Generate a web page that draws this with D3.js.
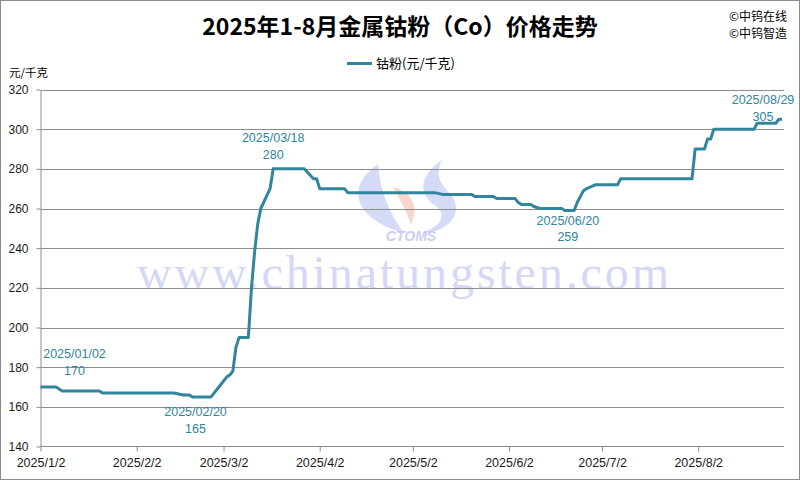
<!DOCTYPE html>
<html><head><meta charset="utf-8">
<script src="https://cdn.jsdelivr.net/npm/d3@7"></script>
<style>body{margin:0;background:#fff}svg{display:block}</style>
</head><body>
<svg id="chart" width="800" height="480"></svg>
<script>
const chartTitle = "2025年1-8月金属钴粉（Co）价格走势";
const seriesName = "钴粉(元/千克)";
const unitLabel = "元/千克";
const credits = ["©中钨在线", "©中钨智造"];
const watermarkText = "www.chinatungsten.com";
const logoText = "CTOMS";

const dates = ["2025-01-02","2025-01-07","2025-01-09","2025-01-21","2025-01-22","2025-02-14","2025-02-17","2025-02-19","2025-02-20","2025-02-26","2025-02-27","2025-02-28","2025-03-03","2025-03-04","2025-03-05","2025-03-06","2025-03-07","2025-03-10","2025-03-11","2025-03-12","2025-03-13","2025-03-14","2025-03-17","2025-03-18","2025-03-28","2025-03-31","2025-04-01","2025-04-02","2025-04-10","2025-04-11","2025-05-09","2025-05-12","2025-05-21","2025-05-22","2025-05-28","2025-05-29","2025-06-04","2025-06-05","2025-06-06","2025-06-09","2025-06-10","2025-06-12","2025-06-19","2025-06-20","2025-06-23","2025-06-24","2025-06-25","2025-06-26","2025-06-27","2025-06-30","2025-07-07","2025-07-08","2025-07-31","2025-08-01","2025-08-04","2025-08-05","2025-08-06","2025-08-07","2025-08-20","2025-08-21","2025-08-27","2025-08-28","2025-08-29"];
const prices = [170,170,168,168,167,167,166,166,165,165,167,169,175,176,178,190,195,195,220,238,252,260,270,280,280,275,275,270,270,268,268,267,267,266,266,265,265,263,262,262,261,260,260,259,259,263,266,269,270,272,272,275,275,290,290,295,295,300,300,303,303,305,305];

const yTicks = [140,160,180,200,220,240,260,280,300,320];
const xTickDates = ["2025-01-02","2025-02-02","2025-03-02","2025-04-02","2025-05-02","2025-06-02","2025-07-02","2025-08-02"];
const xTickLabels = ["2025/1/2","2025/2/2","2025/3/2","2025/4/2","2025/5/2","2025/6/2","2025/7/2","2025/8/2"];

const annotationDates = ["2025-01-02","2025-02-20","2025-03-18","2025-06-20","2025-08-29"];
const annotationValues = [170,165,280,259,305];
const annotationDateLabels = ["2025/01/02","2025/02/20","2025/03/18","2025/06/20","2025/08/29"];

// ---- layout / style ----
const W = 800, H = 480;
const plot = {left: 40.5, right: 782, top: 89.5, bottom: 446.5, gridRight: 784};
const lineColor = "#31859c";
const gridColor = "#8c8c8c";
const cjk = "'Noto Sans CJK SC','Noto Sans',sans-serif";
const latin = "'Liberation Sans',Arial,sans-serif";
// label offsets relative to the annotated point (dx, dy for date line, dy for value line)
const annOffsets = [[34,-33,-16],[3,15,32],[0,-31,-14],[3,10,26],[-19,-20,-3]];

const parse = d3.timeParse("%Y-%m-%d");
const data = dates.map((d,i)=>({date: parse(d), value: prices[i]}));

const svg = d3.select("#chart");
svg.append("rect").attr("x",0.5).attr("y",0.5).attr("width",W-1).attr("height",H-1)
  .attr("fill","#fff").attr("stroke","#8a8a8a");

const x = d3.scaleTime().domain([parse(dates[0]), parse(dates[dates.length-1])]).range([plot.left, plot.right]);
const y = d3.scaleLinear().domain([140,320]).range([plot.bottom, plot.top]);

// ---- watermark ----
const wm = svg.append("g").attr("class","watermark");
wm.append("text").attr("x",137).attr("y",289).attr("textLength",532).attr("lengthAdjust","spacing")
  .attr("font-family","'Liberation Serif','Times New Roman',serif").attr("font-size",48)
  .attr("fill","#cdd2f5").attr("opacity",0.85).text(watermarkText);
wm.append("path").attr("d","M378,164 C346,186 352,218 404,233 C390,214 380,192 378,164 Z").attr("fill","#b9c1f0").attr("opacity",0.6);
wm.append("path").attr("d","M442,160 C416,178 420,196 436,206 C448,216 440,228 420,233 C448,233 464,214 452,196 C441,184 434,176 442,160 Z").attr("fill","#b9c1f0").attr("opacity",0.6);
wm.append("path").attr("d","M393,187 C411,191 420,206 411,225 C406,210 400,200 393,187 Z").attr("fill","#f4b9ad").attr("opacity",0.6);
wm.append("text").attr("x",411).attr("y",241).attr("text-anchor","middle").attr("font-family",latin)
  .attr("font-size",14).attr("font-weight","bold").attr("font-style","italic").attr("fill","#bcc4f0").attr("opacity",0.8).text(logoText);

// ---- grid ----
svg.append("g").selectAll("line").data(yTicks.filter(t=>t>140)).join("line")
  .attr("x1",plot.left).attr("x2",plot.gridRight)
  .attr("y1",d=>Math.round(y(d))+0.5).attr("y2",d=>Math.round(y(d))+0.5)
  .attr("stroke",gridColor).attr("stroke-width",1);

// ---- axes ----
const yAxis = svg.append("g").attr("transform",`translate(${plot.left},0)`)
  .call(d3.axisLeft(y).tickValues(yTicks).tickSize(4).tickSizeOuter(0).tickPadding(8));
yAxis.select(".domain").attr("stroke",gridColor);
yAxis.selectAll(".tick line").attr("stroke",gridColor);
yAxis.selectAll(".tick text").attr("font-family",latin).attr("font-size",12).attr("fill","#1a1a1a");

const xAxis = svg.append("g").attr("transform",`translate(0,${plot.bottom})`)
  .call(d3.axisBottom(x).tickValues(xTickDates.map(parse)).tickFormat((d,i)=>xTickLabels[i]).tickSize(5).tickSizeOuter(0).tickPadding(7));
xAxis.select(".domain").remove();
xAxis.append("line").attr("x1",plot.left).attr("x2",plot.gridRight).attr("y1",0).attr("y2",0).attr("stroke",gridColor);
xAxis.selectAll(".tick line").attr("stroke",gridColor);
xAxis.selectAll(".tick text").attr("font-family",latin).attr("font-size",12.5).attr("fill","#1a1a1a");

// ---- line ----
svg.append("path").datum(data)
  .attr("d", d3.line().x(d=>x(d.date)).y(d=>y(d.value)))
  .attr("fill","none").attr("stroke",lineColor).attr("stroke-width",3).attr("stroke-linejoin","round");

// ---- annotations ----
const ann = svg.append("g").attr("font-family",latin).attr("font-size",12.5).attr("fill",lineColor).attr("text-anchor","middle");
annotationDates.forEach((d,i)=>{
  const px = x(parse(d)), py = y(annotationValues[i]);
  const o = annOffsets[i];
  ann.append("text").attr("x",px+o[0]).attr("y",py+o[1]).attr("dy","0.35em").text(annotationDateLabels[i]);
  ann.append("text").attr("x",px+o[0]).attr("y",py+o[2]).attr("dy","0.35em").text(annotationValues[i]);
});

// ---- title, legend, labels ----
svg.append("text").attr("x",400).attr("y",27).attr("dy","0.35em").attr("text-anchor","middle")
  .attr("font-family",cjk).attr("font-size",23).attr("font-weight","bold").attr("fill","#000").text(chartTitle);
svg.append("g").selectAll("text").data(credits).join("text")
  .attr("x",729).attr("y",(d,i)=>16.5+i*17.5).attr("dy","0.35em")
  .attr("font-family",cjk).attr("font-size",12).attr("fill","#000").text(d=>d);
svg.append("line").attr("x1",347).attr("x2",372).attr("y1",63.5).attr("y2",63.5).attr("stroke",lineColor).attr("stroke-width",3);
svg.append("text").attr("x",376).attr("y",63.5).attr("dy","0.35em").attr("font-family",cjk).attr("font-size",13).attr("fill","#000").text(seriesName);
svg.append("text").attr("x",9).attr("y",73).attr("dy","0.35em").attr("font-family",cjk).attr("font-size",11.5).attr("fill","#000").text(unitLabel);
</script>
</body></html>
